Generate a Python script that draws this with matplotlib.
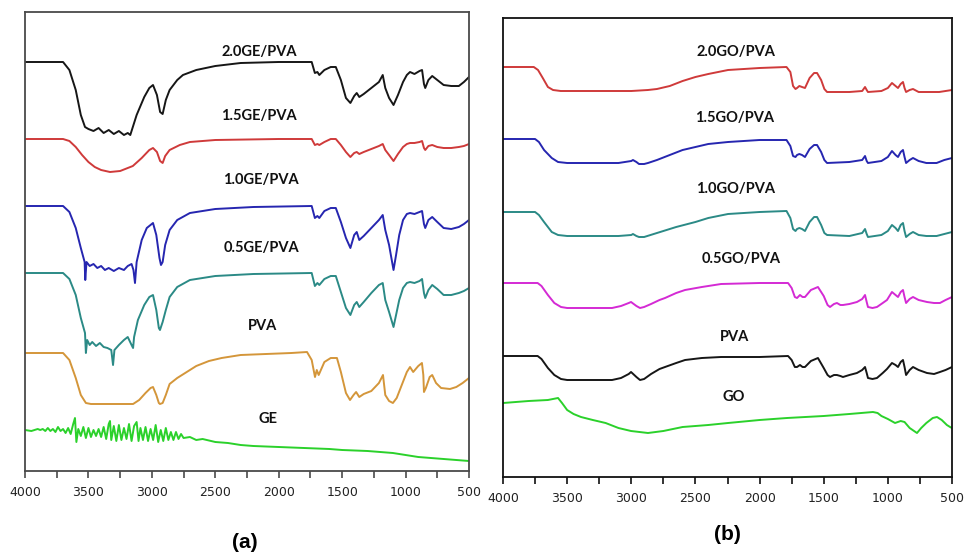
import numpy as np
import matplotlib.pyplot as plt
from matplotlib.ticker import MultipleLocator

# FTIR spectra, transmittance in arbitrary units (offset per curve)

# ---- panel (a): GE / PVA films ----
ge20_wn = [4000, 3700, 3650, 3600, 3560, 3527, 3500, 3460, 3420, 3380, 3340, 3300, 3260, 3220, 3190, 3170,
           3120, 3060, 3020, 2991, 2960, 2935, 2915, 2890, 2860, 2800, 2755, 2650, 2500, 2300, 2000, 1740,
           1715, 1695, 1680, 1640, 1590, 1550, 1510, 1470, 1435, 1405, 1385, 1365, 1330, 1270, 1210, 1180,
           1160, 1130, 1095, 1060, 1020, 990, 965, 930, 890, 870, 855, 845, 820, 790, 750, 700, 640, 580, 540, 500]
ge20_t = [409, 409, 401, 381, 356, 344, 342, 340, 343, 338, 341, 337, 340, 336, 338, 336,
          356, 374, 383, 386, 376, 359, 357, 371, 381, 391, 396, 401, 405, 408, 409, 409,
          398, 399, 396, 401, 404, 404, 391, 373, 368, 375, 378, 374, 377, 383, 389, 396,
          383, 373, 366, 376, 389, 396, 399, 397, 400, 401, 387, 383, 391, 395, 391, 386, 385, 385, 389, 394]

ge15_wn = [4000, 3700, 3650, 3600, 3550, 3500, 3450, 3400, 3330, 3250, 3150, 3080, 3020, 2991, 2960, 2935,
           2915, 2895, 2860, 2780, 2700, 2500, 2000, 1740, 1715, 1695, 1680, 1640, 1590, 1550, 1510, 1470,
           1435, 1405, 1385, 1365, 1330, 1270, 1210, 1180, 1160, 1130, 1095, 1060, 1020, 990, 965, 930,
           890, 870, 855, 845, 820, 790, 750, 700, 640, 580, 540, 500]
ge15_t = [332, 332, 330, 324, 316, 309, 304, 301, 299, 300, 305, 313, 321, 323, 319, 310,
          308, 315, 321, 326, 329, 331, 332, 332, 326, 327, 326, 329, 332, 332, 326, 319,
          314, 318, 319, 317, 319, 322, 325, 327, 321, 316, 310, 317, 324, 327, 328, 328,
          329, 330, 323, 321, 325, 326, 324, 323, 323, 324, 325, 327]

ge10_wn = [4000, 3700, 3650, 3600, 3560, 3530, 3525, 3515, 3490, 3460, 3430, 3400, 3370, 3340, 3300, 3260,
           3220, 3190, 3160, 3145, 3133, 3120, 3080, 3040, 2991, 2965, 2940, 2928, 2915, 2895, 2860, 2800,
           2700, 2500, 2200, 1740, 1715, 1695, 1680, 1640, 1590, 1550, 1510, 1470, 1435, 1405, 1385, 1365,
           1330, 1270, 1210, 1180, 1160, 1130, 1095, 1075, 1050, 1020, 990, 965, 930, 890, 870, 855,
           845, 820, 790, 750, 700, 640, 580, 540, 500]
ge10_t = [265, 265, 259, 243, 223, 209, 191, 209, 205, 207, 203, 205, 201, 203, 200, 203,
          201, 205, 207, 201, 188, 209, 231, 243, 248, 236, 213, 206, 209, 226, 241, 251,
          258, 262, 264, 265, 253, 255, 253, 260, 263, 263, 249, 233, 223, 236, 239, 231,
          235, 243, 251, 256, 241, 226, 201, 216, 236, 251, 257, 258, 257, 259, 260, 247,
          243, 251, 254, 249, 243, 242, 244, 247, 251]

ge05_wn = [4000, 3700, 3650, 3600, 3560, 3527, 3520, 3510, 3490, 3470, 3440, 3410, 3380, 3350, 3320, 3306,
           3295, 3260, 3220, 3190, 3160, 3148, 3140, 3110, 3060, 3020, 2991, 2965, 2945, 2936, 2915, 2890,
           2860, 2800, 2700, 2500, 2200, 1740, 1715, 1695, 1680, 1640, 1590, 1550, 1510, 1470, 1435, 1405,
           1385, 1365, 1330, 1270, 1210, 1180, 1160, 1130, 1095, 1075, 1050, 1020, 990, 965, 930, 890,
           870, 855, 845, 820, 790, 750, 700, 640, 580, 540, 500]
ge05_t = [198, 198, 192, 176, 153, 138, 118, 131, 126, 129, 125, 128, 124, 123, 121, 106,
          121, 126, 131, 134, 126, 123, 134, 151, 166, 174, 176, 161, 143, 141, 149, 161,
          174, 184, 191, 195, 197, 198, 185, 188, 186, 192, 195, 195, 179, 163, 156, 166,
          169, 164, 169, 178, 186, 188, 171, 159, 144, 156, 171, 183, 188, 189, 188, 190,
          192, 178, 173, 181, 186, 182, 176, 176, 178, 180, 183]

pva_a_wn = [4000, 3700, 3650, 3600, 3560, 3520, 3480, 3300, 3148, 3100, 3050, 3010, 2991, 2965, 2945, 2936,
            2915, 2890, 2860, 2800, 2750, 2650, 2550, 2450, 2300, 2100, 1900, 1777, 1740, 1714, 1700, 1685,
            1640, 1590, 1541, 1510, 1470, 1438, 1410, 1390, 1365, 1330, 1270, 1210, 1178, 1160, 1130, 1100,
            1070, 1030, 990, 965, 940, 900, 871, 860, 855, 840, 810, 790, 760, 720, 650, 600, 550, 500]
pva_a_t = [118, 118, 111, 93, 76, 68, 67, 67, 67, 71, 78, 83, 84, 76, 68, 67,
           68, 76, 87, 93, 97, 105, 110, 113, 116, 117, 118, 119, 111, 94, 101, 96,
           109, 113, 113, 99, 78, 71, 76, 79, 74, 77, 80, 88, 96, 76, 70, 68,
           73, 86, 99, 104, 99, 105, 108, 96, 79, 83, 94, 96, 88, 83, 82, 84, 88, 93]

ge_wn = [4000, 3950, 3900, 3880, 3860, 3840, 3820, 3800, 3780, 3760, 3740, 3720, 3700, 3680, 3660, 3640,
         3620, 3606, 3595, 3580, 3560, 3540, 3520, 3500, 3480, 3460, 3440, 3420, 3400, 3380, 3360, 3340,
         3330, 3320, 3300, 3280, 3260, 3240, 3220, 3200, 3180, 3160, 3140, 3120, 3105, 3090, 3070, 3050,
         3030, 3010, 2990, 2970, 2950, 2930, 2910, 2890, 2870, 2850, 2830, 2810, 2790, 2770, 2750, 2700,
         2650, 2600, 2500, 2400, 2300, 2200, 2000, 1800, 1600, 1500, 1300, 1200, 1100, 1000, 900, 800,
         700, 600, 500]
ge_t = [41, 40, 42, 41, 42, 40, 43, 40, 42, 39, 44, 40, 42, 38, 43, 37,
        47, 53, 29, 42, 35, 44, 33, 43, 34, 41, 35, 42, 34, 44, 32, 47,
        50, 31, 45, 30, 46, 31, 43, 32, 47, 30, 45, 49, 30, 43, 31, 44,
        30, 42, 31, 46, 29, 41, 30, 43, 31, 39, 31, 39, 32, 37, 33, 34,
        31, 32, 29, 28, 26, 25, 24, 23, 22, 21, 20, 19, 18, 16, 14, 13,
        12, 11, 10]

# ---- panel (b): GO / PVA films ----
go20_wn = [4000, 3760, 3727, 3690, 3650, 3610, 3550, 3300, 3000, 2870, 2800, 2700, 2600, 2500, 2400, 2246,
           2000, 1790, 1760, 1739, 1720, 1708, 1690, 1669, 1646, 1610, 1575, 1552, 1520, 1495, 1474, 1300,
           1200, 1178, 1165, 1155, 1050, 1000, 968, 940, 921, 900, 882, 870, 858, 830, 804, 760,
           700, 600, 550, 500]
go20_t = [410, 410, 407, 399, 390, 387, 386, 386, 386, 387, 388, 391, 396, 400, 403, 407,
          409, 410, 405, 391, 388, 389, 391, 390, 389, 399, 404, 404, 397, 388, 385, 385,
          386, 390, 387, 385, 386, 389, 394, 391, 389, 393, 395, 389, 385, 387, 388, 385,
          385, 385, 386, 387]

go15_wn = [4000, 3750, 3720, 3680, 3620, 3571, 3500, 3100, 3000, 2987, 2960, 2940, 2900, 2870, 2800, 2700,
           2600, 2500, 2400, 2246, 2000, 1790, 1760, 1739, 1720, 1708, 1690, 1669, 1646, 1610, 1575, 1552,
           1520, 1495, 1474, 1300, 1200, 1178, 1165, 1155, 1050, 1000, 968, 940, 921, 900, 882, 870,
           858, 830, 804, 760, 700, 620, 560, 500]
go15_t = [338, 338, 335, 327, 319, 315, 314, 314, 316, 317, 315, 313, 313, 314, 317, 322,
          327, 330, 333, 335, 337, 337, 331, 321, 320, 322, 323, 322, 320, 328, 332, 332,
          325, 317, 314, 315, 317, 321, 316, 314, 316, 320, 326, 322, 320, 325, 327, 320,
          314, 317, 319, 316, 314, 314, 317, 319]

go10_wn = [4000, 3750, 3720, 3680, 3620, 3571, 3500, 3100, 3000, 2987, 2960, 2940, 2900, 2850, 2750, 2650,
           2500, 2400, 2246, 2000, 1790, 1760, 1739, 1720, 1708, 1690, 1669, 1646, 1610, 1575, 1552, 1520,
           1495, 1474, 1300, 1200, 1178, 1165, 1155, 1050, 1000, 968, 940, 921, 900, 882, 870, 858,
           830, 804, 760, 700, 620, 560, 500]
go10_t = [265, 265, 262, 255, 245, 242, 241, 241, 242, 243, 241, 240, 240, 242, 246, 250,
          255, 259, 263, 265, 266, 259, 248, 246, 248, 249, 248, 246, 255, 260, 260, 252,
          244, 242, 241, 244, 248, 243, 240, 242, 246, 252, 249, 246, 252, 254, 246, 240,
          243, 245, 242, 241, 241, 243, 245]

go05_wn = [4000, 3730, 3700, 3650, 3600, 3548, 3500, 3150, 3080, 3020, 3002, 2960, 2932, 2900, 2846, 2780,
           2737, 2650, 2581, 2450, 2300, 2000, 1778, 1750, 1725, 1708, 1685, 1665, 1646, 1600, 1545, 1500,
           1470, 1451, 1420, 1397, 1370, 1350, 1300, 1241, 1200, 1178, 1165, 1155, 1120, 1085, 1040, 1007,
           968, 940, 921, 900, 882, 870, 858, 830, 804, 760, 695, 640, 594, 550, 500]
go05_t = [194, 194, 191, 182, 174, 170, 169, 169, 171, 174, 175, 171, 169, 170, 173, 177,
          179, 184, 187, 190, 193, 194, 194, 189, 180, 179, 182, 180, 180, 187, 190, 181,
          172, 170, 173, 174, 172, 172, 173, 175, 178, 182, 175, 170, 169, 170, 174, 177,
          185, 182, 180, 185, 187, 180, 174, 178, 180, 177, 175, 174, 174, 177, 180]

pva_b_wn = go05_wn
pva_b_t = [121, 121, 118, 109, 102, 98, 97, 97, 99, 103, 105, 100, 97, 98, 103, 108,
           110, 114, 117, 119, 120, 120, 121, 117, 110, 110, 112, 110, 110, 116, 119, 109,
           102, 100, 102, 102, 101, 100, 102, 104, 107, 110, 104, 99, 98, 99, 104, 108,
           114, 112, 110, 115, 117, 110, 102, 107, 110, 107, 104, 103, 105, 107, 110]

go_wn = [4000, 3800, 3650, 3571, 3540, 3500, 3450, 3392, 3300, 3200, 3100, 3002, 2870, 2750, 2600, 2400,
         2246, 2000, 1786, 1500, 1300, 1116, 1080, 1050, 1000, 944, 900, 870, 830, 773, 740, 700,
         650, 617, 580, 540, 515, 500]
go_t = [74, 76, 77, 79, 74, 67, 63, 60, 57, 54, 49, 46, 44, 46, 50, 52,
        54, 57, 59, 61, 63, 65, 64, 61, 58, 54, 56, 55, 49, 44, 49, 54,
        59, 60, 57, 52, 50, 49]

# curve styles and labels
black = '#161616'
red = '#cf3a3a'
blue = '#2626b0'
teal = '#2b8a86'
orange = '#d4963a'
green = '#2bd12b'
magenta = '#d42ad4'

curves_a = [(ge20_wn, ge20_t, black), (ge15_wn, ge15_t, red), (ge10_wn, ge10_t, blue),
            (ge05_wn, ge05_t, teal), (pva_a_wn, pva_a_t, orange), (ge_wn, ge_t, green)]
labels_a = [('2.0GE/PVA', 2155, 419), ('1.5GE/PVA', 2155, 355), ('1.0GE/PVA', 2140, 291),
            ('0.5GE/PVA', 2140, 223), ('PVA', 2124, 145), ('GE', 2084, 52)]

curves_b = [(go20_wn, go20_t, red), (go15_wn, go15_t, blue), (go10_wn, go10_t, teal),
            (go05_wn, go05_t, magenta), (pva_b_wn, pva_b_t, black), (go_wn, go_t, green)]
labels_b = [('2.0GO/PVA', 2184, 425), ('1.5GO/PVA', 2192, 359), ('1.0GO/PVA', 2184, 288),
            ('0.5GO/PVA', 2145, 218), ('PVA', 2192, 140), ('GO', 2199, 80)]

fig = plt.figure(figsize=(9.66, 5.56), dpi=100)
ax1 = fig.add_axes([25 / 966, 85 / 556, 444 / 966, 459 / 556])
ax2 = fig.add_axes([503 / 966, 79 / 556, 449 / 966, 459 / 556])


def draw_panel(ax, curves, labels, frame_color):
    for wn, t, c in curves:
        ax.plot(wn, t, color=c, lw=1.4, solid_joinstyle='round')
    for txt, x, y in labels:
        ax.text(x, y, txt, ha='center', va='center', fontsize=10.5, fontweight='bold',
                family=['Lato', 'DejaVu Sans'], color='#111111')
    ax.set_xlim(4000, 500)
    ax.set_ylim(0, 459)
    ax.set_yticks([])
    ax.xaxis.set_major_locator(MultipleLocator(500))
    ax.xaxis.set_minor_locator(MultipleLocator(250))
    ax.tick_params(axis='x', which='both', direction='out', length=5, width=1.2,
                   color=frame_color, pad=6, labelsize=9)
    for lab in ax.get_xticklabels():
        lab.set_family(['Liberation Sans Narrow', 'DejaVu Sans'])
        lab.set_color('#222222')
    for s in ax.spines.values():
        s.set_color(frame_color)
        s.set_linewidth(1.3)


draw_panel(ax1, curves_a, labels_a, '#4a4a4a')
draw_panel(ax2, curves_b, labels_b, '#111111')

fig.text(245 / 966, 1 - 542 / 556, '(a)', ha='center', va='center', fontsize=15,
         fontweight='bold', family='Liberation Sans')
fig.text(727 / 966, 1 - 535 / 556, '(b)', ha='center', va='center', fontsize=15,
         fontweight='bold', family='Liberation Sans')

fig.savefig('out.png', dpi=100)
